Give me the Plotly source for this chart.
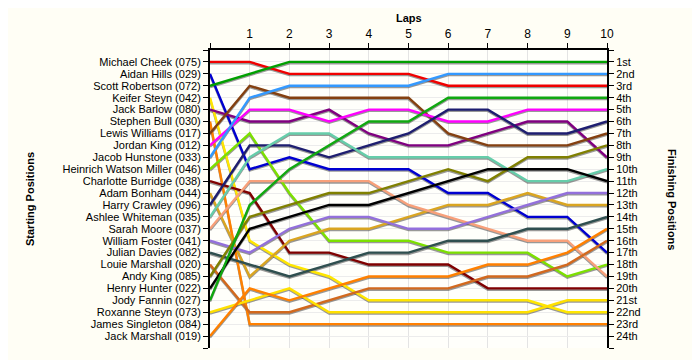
import plotly.graph_objects as go

laps = [0, 1, 2, 3, 4, 5, 6, 7, 8, 9, 10]
lap_labels = ["", "1", "2", "3", "4", "5", "6", "7", "8", "9", "10"]

start_labels = [
    "Michael Cheek (075)", "Aidan Hills (029)", "Scott Robertson (072)", "Keifer Steyn (042)",
    "Jack Barlow (080)", "Stephen Bull (030)", "Lewis Williams (017)", "Jordan King (012)",
    "Jacob Hunstone (033)", "Heinrich Watson Miller (046)", "Charlotte Burridge (038)",
    "Adam Bonham (044)", "Harry Crawley (096)", "Ashlee Whiteman (035)", "Sarah Moore (037)",
    "William Foster (041)", "Julian Davies (082)", "Louie Marshall (020)", "Andy King (085)",
    "Henry Hunter (022)", "Jody Fannin (027)", "Roxanne Steyn (073)", "James Singleton (084)",
    "Jack Marshall (019)",
]
finish_labels = [
    "1st", "2nd", "3rd", "4th", "5th", "6th", "7th", "8th", "9th", "10th", "11th", "12th",
    "13th", "14th", "15th", "16th", "17th", "18th", "19th", "20th", "21st", "22nd", "23rd", "24th",
]

# Position of each driver at laps 0..10
michael_cheek = [1, 1, 2, 2, 2, 2, 3, 3, 3, 3, 3]
aidan_hills = [2, 10, 9, 10, 10, 10, 12, 12, 14, 14, 17]
scott_robertson = [3, 2, 1, 1, 1, 1, 1, 1, 1, 1, 1]
keifer_steyn = [4, 16, 18, 19, 21, 21, 21, 21, 21, 22, 22]
jack_barlow = [5, 6, 6, 5, 7, 8, 8, 7, 6, 6, 9]
stephen_bull = [6, 23, 23, 23, 23, 23, 23, 23, 23, 23, 23]
lewis_williams = [7, 3, 4, 4, 4, 4, 7, 8, 8, 8, 7]
jordan_king = [8, 5, 5, 6, 5, 5, 6, 6, 5, 5, 5]
jacob_hunstone = [9, 4, 3, 3, 3, 3, 2, 2, 2, 2, 2]
heinrich_watson_miller = [10, 7, 12, 16, 16, 16, 17, 17, 17, 19, 18]
charlotte_burridge = [11, 12, 17, 17, 18, 18, 18, 20, 20, 20, 20]
adam_bonham = [12, 19, 16, 15, 15, 14, 13, 13, 12, 13, 13]
harry_crawley = [13, 8, 8, 9, 8, 7, 5, 5, 7, 7, 6]
ashlee_whiteman = [14, 9, 7, 7, 9, 9, 9, 9, 11, 11, 10]
sarah_moore = [15, 11, 11, 11, 11, 13, 14, 15, 16, 16, 19]
william_foster = [16, 17, 15, 14, 14, 15, 15, 14, 13, 12, 12]
julian_davies = [17, 18, 19, 18, 17, 17, 16, 16, 15, 15, 14]
louie_marshall = [18, 22, 22, 21, 20, 20, 20, 19, 19, 18, 16]
andy_king = [19, 14, 13, 12, 12, 11, 10, 11, 9, 9, 8]
henry_hunter = [20, 15, 14, 13, 13, 12, 11, 10, 10, 10, 11]
jody_fannin = [21, 13, 10, 8, 6, 6, 4, 4, 4, 4, 4]
roxanne_steyn = [22, 21, 20, 22, 22, 22, 22, 22, 22, 21, 21]
james_singleton = []
jack_marshall = [24, 20, 21, 20, 19, 19, 19, 18, 18, 17, 15]

series = [
    ("Michael Cheek", michael_cheek, "#F00000"),
    ("Aidan Hills", aidan_hills, "#0000D0"),
    ("Scott Robertson", scott_robertson, "#00A000"),
    ("Keifer Steyn", keifer_steyn, "#FFE600"),
    ("Jack Barlow", jack_barlow, "#800080"),
    ("Stephen Bull", stephen_bull, "#FF8000"),
    ("Lewis Williams", lewis_williams, "#844010"),
    ("Jordan King", jordan_king, "#FF00FF"),
    ("Jacob Hunstone", jacob_hunstone, "#3399FF"),
    ("Heinrich Watson Miller", heinrich_watson_miller, "#7CE000"),
    ("Charlotte Burridge", charlotte_burridge, "#800000"),
    ("Adam Bonham", adam_bonham, "#DAA520"),
    ("Harry Crawley", harry_crawley, "#1E1E70"),
    ("Ashlee Whiteman", ashlee_whiteman, "#66CDAA"),
    ("Sarah Moore", sarah_moore, "#F8A07A"),
    ("William Foster", william_foster, "#9370DB"),
    ("Julian Davies", julian_davies, "#2F4F4F"),
    ("Louie Marshall", louie_marshall, "#D2691E"),
    ("Andy King", andy_king, "#808000"),
    ("Henry Hunter", henry_hunter, "#000000"),
    ("Jody Fannin", jody_fannin, "#10A810"),
    ("Roxanne Steyn", roxanne_steyn, "#FFE000"),
    ("James Singleton", james_singleton, "#A0A0A0"),
    ("Jack Marshall", jack_marshall, "#FF8000"),
]

fig = go.Figure()

# drop shadows
for name, pos, color in series:
    if not pos:
        continue
    fig.add_trace(go.Scatter(
        x=laps[:len(pos)], y=[p + 0.11 for p in pos], mode="lines",
        line=dict(color="rgba(70,70,70,0.55)", width=2.4),
        hoverinfo="skip", showlegend=False,
    ))

for name, pos, color in series:
    if not pos:
        continue
    fig.add_trace(go.Scatter(
        x=laps[:len(pos)], y=pos, mode="lines", name=name,
        line=dict(color=color, width=2.4),
        showlegend=False,
    ))

font_main = "Liberation Sans, Arial, sans-serif"

fig.update_layout(
    width=692, height=352,
    margin=dict(l=202, r=93, t=42, b=12),
    paper_bgcolor="#FFFEF5",
    plot_bgcolor="#FFFFFB",
    font=dict(family=font_main, size=11, color="#000000"),
    xaxis=dict(
        range=[0, 10], side="top",
        tickmode="array", tickvals=laps, ticktext=lap_labels,
        ticks="outside", ticklen=5, tickcolor="#000", tickwidth=1,
        showline=True, linecolor="#000", linewidth=2,
        showgrid=True, gridcolor="#E4E4E4", gridwidth=1,
        zeroline=False, automargin=False,
        tickfont=dict(size=12),
    ),
    yaxis=dict(
        range=[25, 0],
        tickmode="array", tickvals=list(range(1, 25)), ticktext=start_labels,
        ticks="outside", ticklen=5, tickcolor="#000", tickwidth=1,
        minor=dict(tickvals=[0, 25], ticks="outside", ticklen=5, tickcolor="#000", showgrid=False),
        showline=True, linecolor="#000", linewidth=2,
        showgrid=True, gridcolor="#ECECEC", gridwidth=1,
        zeroline=False, automargin=False,
        tickfont=dict(size=11),
    ),
    yaxis2=dict(
        range=[25, 0], overlaying="y", side="right",
        tickmode="array", tickvals=list(range(1, 25)), ticktext=finish_labels,
        ticks="outside", ticklen=5, tickcolor="#000", tickwidth=1,
        minor=dict(tickvals=[0, 25], ticks="outside", ticklen=5, tickcolor="#000", showgrid=False),
        showline=True, linecolor="#000", linewidth=2,
        showgrid=False, zeroline=False, automargin=False,
        tickfont=dict(size=11),
    ),
    annotations=[
        dict(text="<b>Laps</b>", xref="paper", yref="paper", x=0.5, y=1, yshift=32,
             yanchor="middle", showarrow=False, font=dict(size=11)),
        dict(text="<b>Starting Positions</b>", xref="paper", yref="paper", x=0, xshift=-180,
             y=0.5, xanchor="center", yanchor="middle", textangle=-90, showarrow=False,
             font=dict(size=11)),
        dict(text="<b>Finishing Positions</b>", xref="paper", yref="paper", x=1, xshift=65,
             y=0.5, xanchor="center", yanchor="middle", textangle=90, showarrow=False,
             font=dict(size=11)),
    ],
)

# dummy trace to activate yaxis2
fig.add_trace(go.Scatter(x=[None], y=[None], yaxis="y2", showlegend=False, hoverinfo="skip"))

fig.write_html("out.html")
